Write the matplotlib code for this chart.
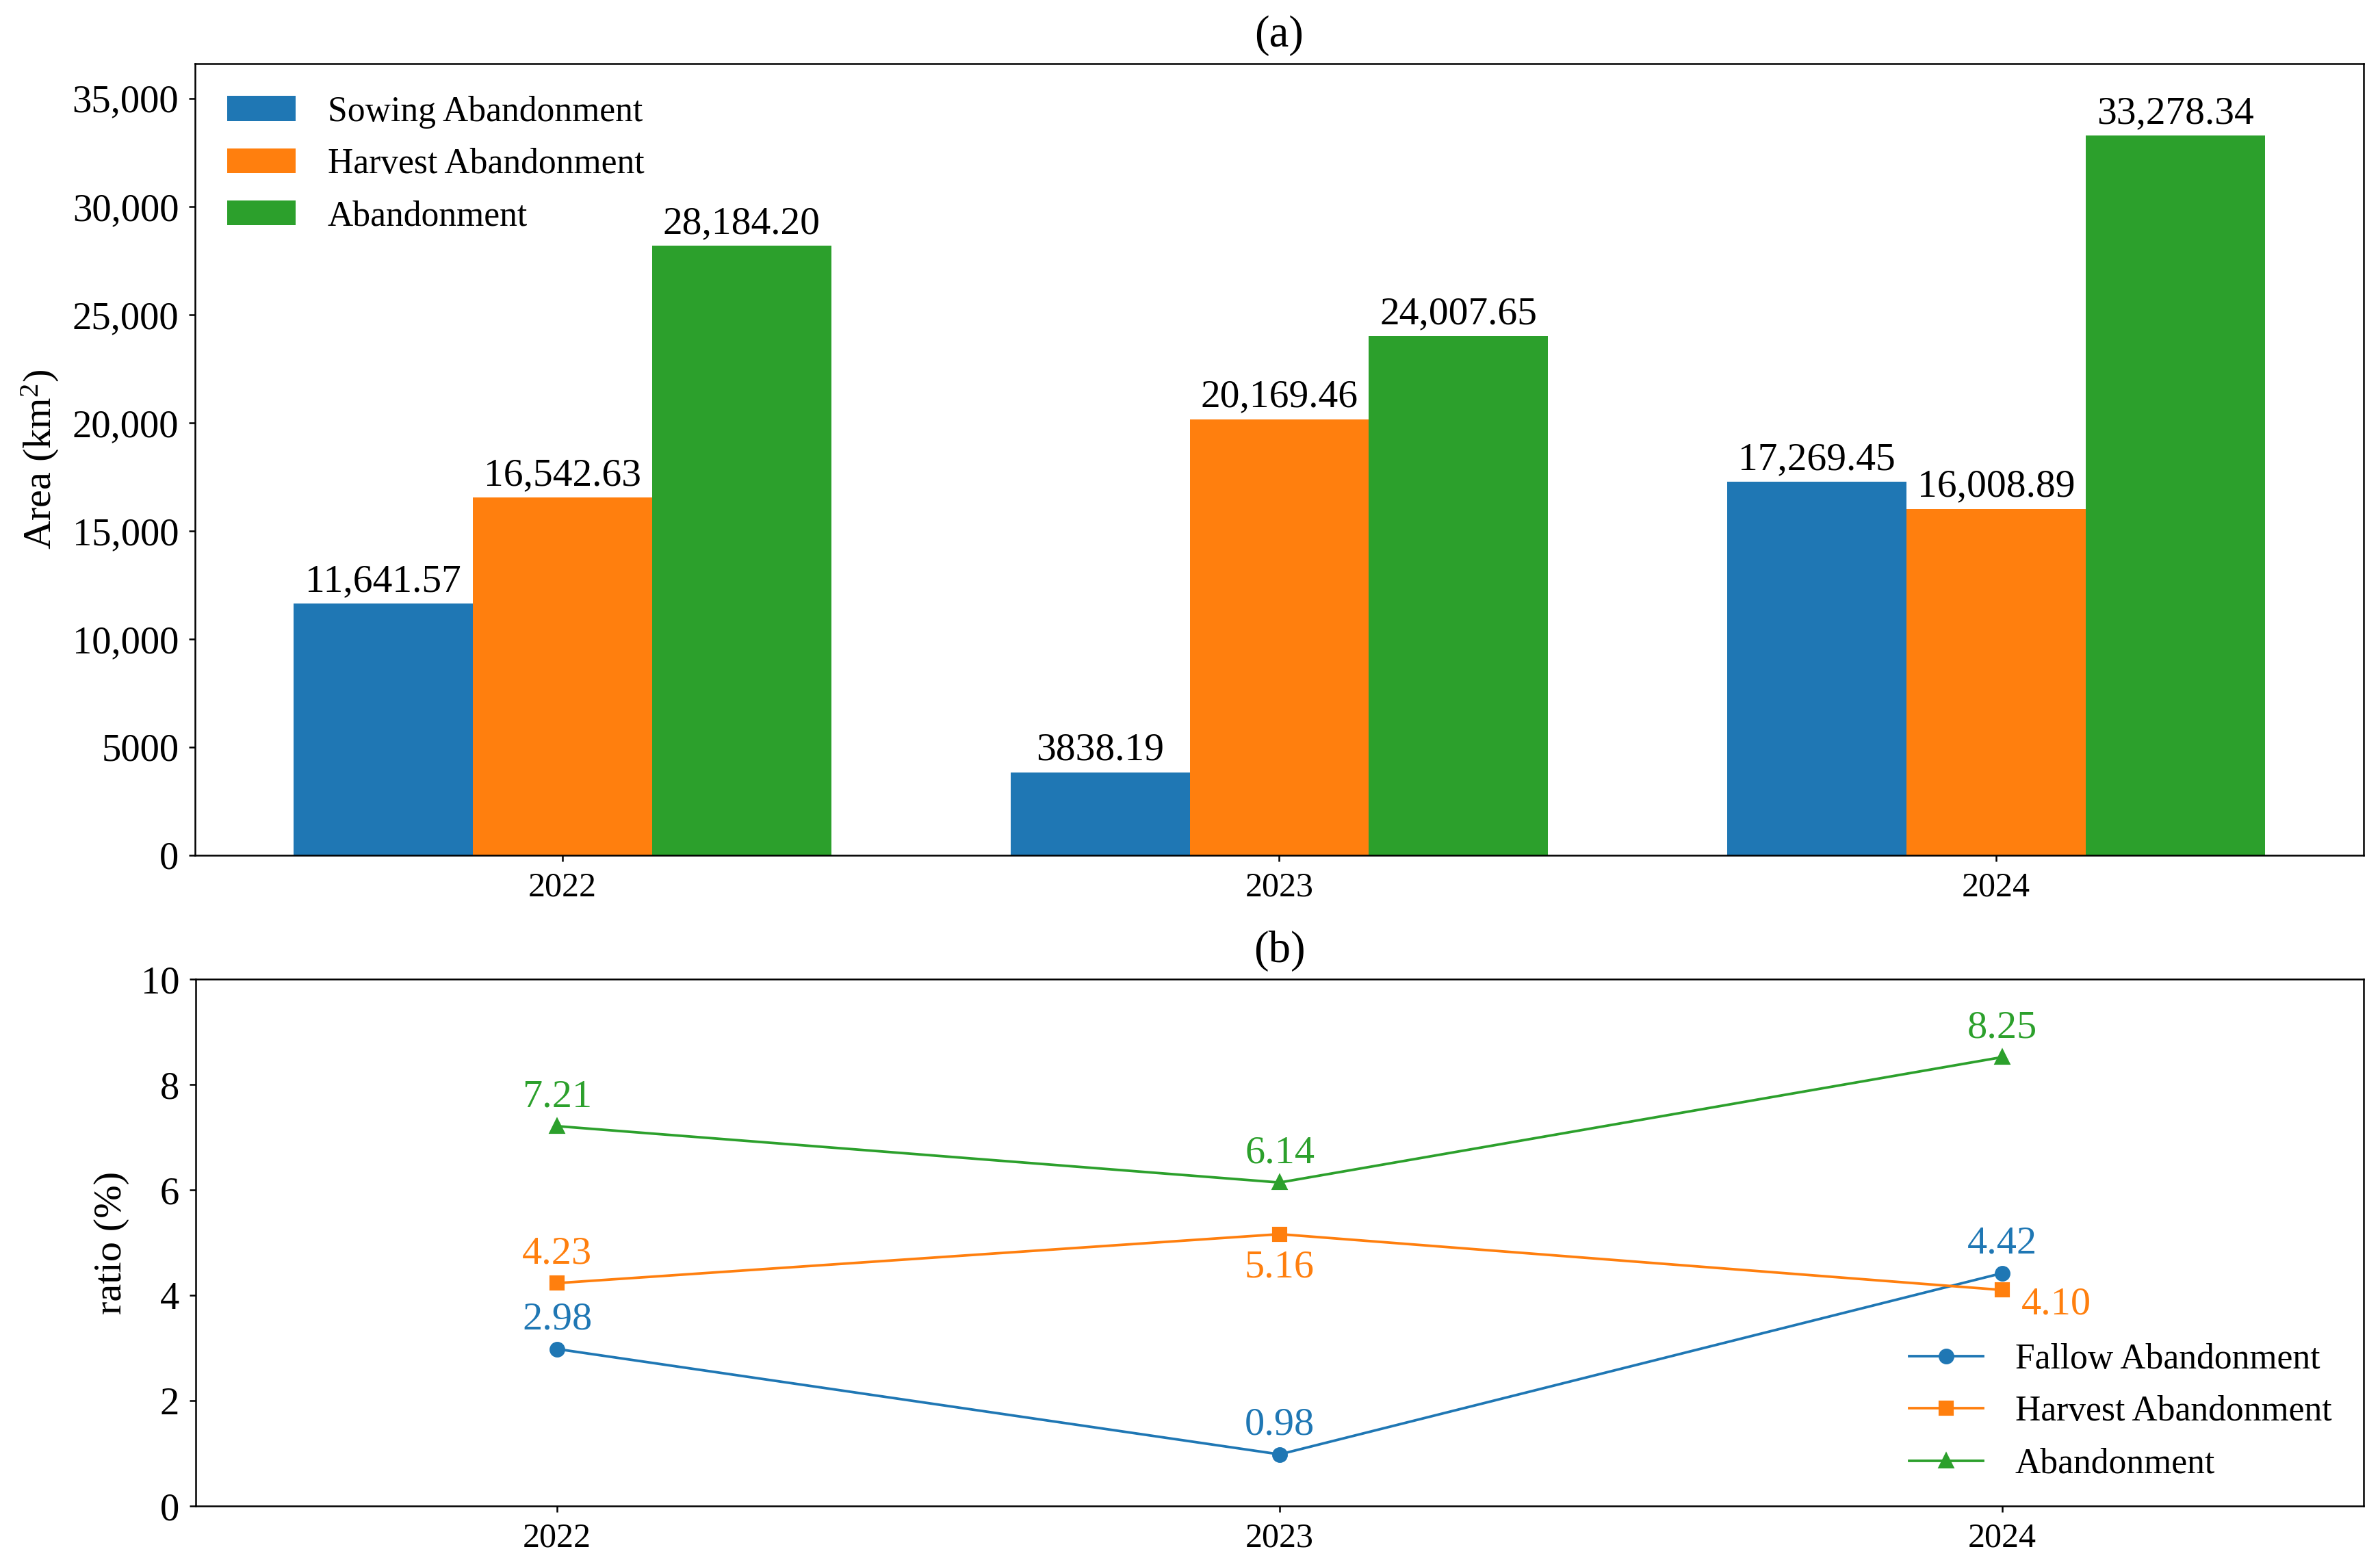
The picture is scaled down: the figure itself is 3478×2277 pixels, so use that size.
import matplotlib
matplotlib.use("Agg")
import matplotlib.pyplot as plt
from matplotlib.ticker import FuncFormatter, MultipleLocator
import numpy as np

plt.rcParams['font.family'] = ['Liberation Serif', 'DejaVu Serif']
plt.rcParams['mathtext.fontset'] = 'custom'
plt.rcParams['mathtext.rm'] = 'Liberation Serif'
plt.rcParams['mathtext.default'] = 'regular'

# ---- data ----
years = ['2022', '2023', '2024']
area_series = ['Sowing Abandonment', 'Harvest Abandonment', 'Abandonment']
sowing_area = [11641.57, 3838.19, 17269.45]
harvest_area = [16542.63, 20169.46, 16008.89]
total_area = [28184.20, 24007.65, 33278.34]

ratio_series = ['Fallow Abandonment', 'Harvest Abandonment', 'Abandonment']
fallow_ratio = [2.98, 0.98, 4.42]
harvest_ratio = [4.23, 5.16, 4.10]
total_ratio = [7.21, 6.14, 8.52]          # plotted positions
fallow_ratio_labels = ['2.98', '0.98', '4.42']
harvest_ratio_labels = ['4.23', '5.16', '4.10']
total_ratio_labels = ['7.21', '6.14', '8.25']  # printed labels

colors = ['#1f77b4', '#ff7f0e', '#2ca02c']

def fmt_num(v, decimals=0):
    if abs(v) >= 10000:
        return f'{v:,.{decimals}f}'
    return f'{v:.{decimals}f}'

fig = plt.figure(figsize=(3478/300, 2277/300), dpi=300)
W, H = 3478, 2277
ax1 = fig.add_axes([285/W, 1-1250/H, (3454-285)/W, (1250-93)/H])
ax2 = fig.add_axes([286/W, 1-2201/H, (3454-286)/W, (2201-1431)/H])

for ax in (ax1, ax2):
    for s in ax.spines.values():
        s.set_linewidth(0.6)
    ax.tick_params(width=0.6, length=2.2)

# ---- (a) bars ----
x = np.arange(len(years))
bw = 0.25
for i, (vals, name) in enumerate(zip([sowing_area, harvest_area, total_area], area_series)):
    bars = ax1.bar(x + (i-1)*bw, vals, bw, color=colors[i], label=name)
    ax1.bar_label(bars, labels=[fmt_num(v, 2) for v in vals], padding=1.5, fontsize=13.8)
ax1.set_xticks(x)
ax1.set_xticklabels(years, fontsize=12)
ax1.set_ylim(0, max(total_area)*1.1)
ax1.yaxis.set_major_locator(MultipleLocator(5000))
ax1.yaxis.set_major_formatter(FuncFormatter(lambda v, p: fmt_num(v)))
ax1.tick_params(axis='y', labelsize=13.6)
ax1.set_ylabel('Area (km$^{2}$)', fontsize=14)
ax1.set_title('(a)', fontsize=15.5)
ax1.legend(loc='upper left', frameon=False, fontsize=12.4, handlelength=1.95,
           handletextpad=0.9, labelspacing=0.55)

# ---- (b) lines ----
markers = ['o', 's', '^']
series = [fallow_ratio, harvest_ratio, total_ratio]
labels = [fallow_ratio_labels, harvest_ratio_labels, total_ratio_labels]
for i, (vals, name) in enumerate(zip(series, ratio_series)):
    ax2.plot(x, vals, marker=markers[i], color=colors[i], lw=0.9, ms=4.5, label=name)
    for j, (xv, yv) in enumerate(zip(x, vals)):
        txt = labels[i][j]
        if i == 1 and j == 1:
            ax2.annotate(txt, (xv, yv), xytext=(0, -5.5), textcoords='offset points',
                         ha='center', va='top', color=colors[i], fontsize=14)
        elif i == 1 and j == 2:
            ax2.annotate(txt, (xv, yv), xytext=(19, -5), textcoords='offset points',
                         ha='center', va='center', color=colors[i], fontsize=14)
        else:
            ax2.annotate(txt, (xv, yv), xytext=(0, 4), textcoords='offset points',
                         ha='center', va='bottom', color=colors[i], fontsize=14)
ax2.set_xlim(-0.5, 2.5)
ax2.set_ylim(0, 10)
ax2.set_xticks(x)
ax2.set_xticklabels(years, fontsize=12)
ax2.yaxis.set_major_locator(MultipleLocator(2))
ax2.tick_params(axis='y', labelsize=13.6)
ax2.set_ylabel('ratio (%)', fontsize=14)
ax2.set_title('(b)', fontsize=15.5)
ax2.legend(loc='lower right', bbox_to_anchor=(1.0, -0.012), frameon=False, fontsize=12.4,
           handlelength=2.1, handletextpad=0.9, labelspacing=0.55)

fig.savefig('out.png', dpi=300)
